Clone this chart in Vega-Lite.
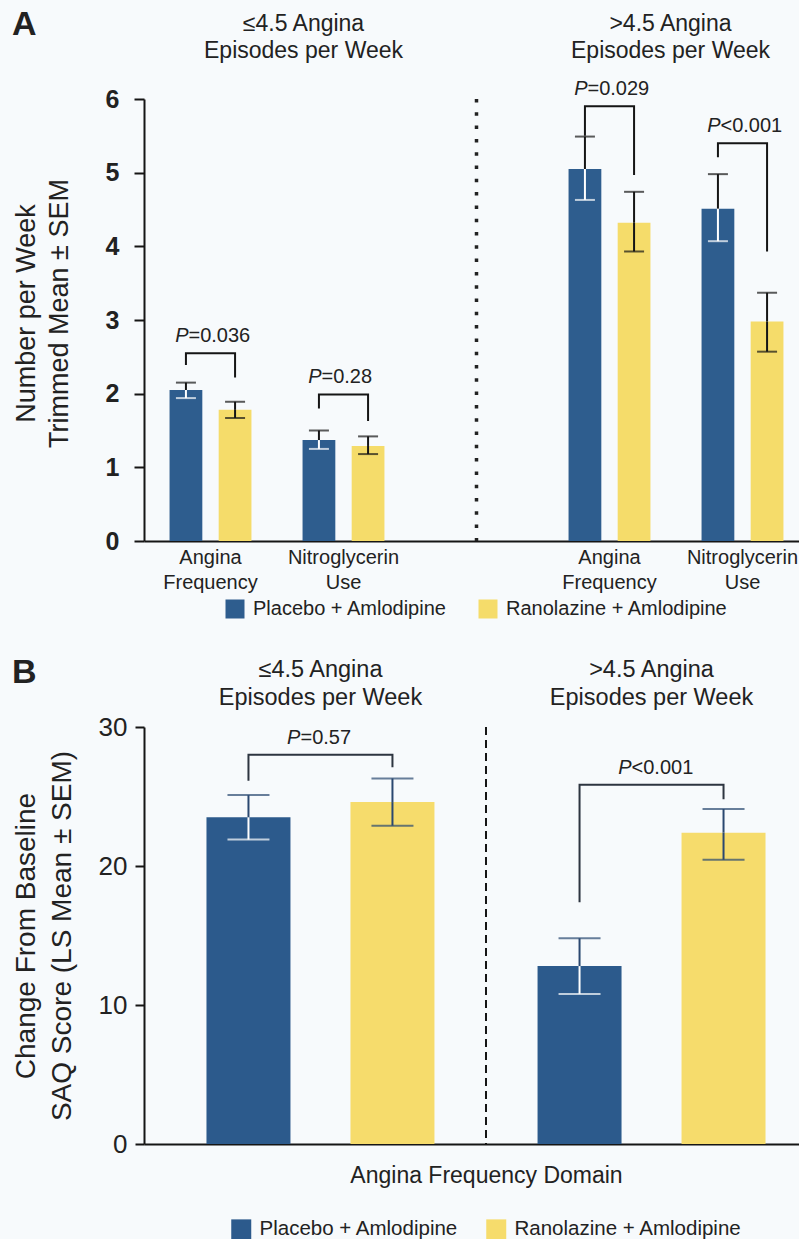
{
  "$schema": "https://vega.github.io/schema/vega-lite/v6.json",
  "background": "#f7fafc",
  "padding": {"left": 12, "top": 8, "right": -28, "bottom": 0},
  "config": {
    "font": "Liberation Sans",
    "view": {"stroke": null},
    "axis": {"grid": false, "domainColor": "#151515", "tickColor": "#151515", "labelColor": "#222222", "titleColor": "#222222", "titleFontWeight": "normal", "labelLimit": 400},
    "legend": {"labelColor": "#222222", "labelLimit": 400, "layout": {"bottom": {"anchor": "middle"}}}
  },
  "datasets": {
    "barsA": [
      {"slot": "≤4.5|Angina Frequency", "group": "Placebo + Amlodipine", "mean": 2.05, "lo": 1.94, "hi": 2.15},
      {"slot": "≤4.5|Angina Frequency", "group": "Ranolazine + Amlodipine", "mean": 1.78, "lo": 1.67, "hi": 1.89},
      {"slot": "≤4.5|Nitroglycerin Use", "group": "Placebo + Amlodipine", "mean": 1.37, "lo": 1.25, "hi": 1.5},
      {"slot": "≤4.5|Nitroglycerin Use", "group": "Ranolazine + Amlodipine", "mean": 1.29, "lo": 1.18, "hi": 1.42},
      {"slot": ">4.5|Angina Frequency", "group": "Placebo + Amlodipine", "mean": 5.05, "lo": 4.63, "hi": 5.49},
      {"slot": ">4.5|Angina Frequency", "group": "Ranolazine + Amlodipine", "mean": 4.32, "lo": 3.93, "hi": 4.74},
      {"slot": ">4.5|Nitroglycerin Use", "group": "Placebo + Amlodipine", "mean": 4.51, "lo": 4.07, "hi": 4.98},
      {"slot": ">4.5|Nitroglycerin Use", "group": "Ranolazine + Amlodipine", "mean": 2.98, "lo": 2.57, "hi": 3.37}
    ],
    "bracketsA": [
      {"id": 1, "k": 1, "slot": "≤4.5|Angina Frequency", "group": "Placebo + Amlodipine", "y": 2.39},
      {"id": 1, "k": 2, "slot": "≤4.5|Angina Frequency", "group": "Placebo + Amlodipine", "y": 2.55},
      {"id": 1, "k": 3, "slot": "≤4.5|Angina Frequency", "group": "Ranolazine + Amlodipine", "y": 2.55},
      {"id": 1, "k": 4, "slot": "≤4.5|Angina Frequency", "group": "Ranolazine + Amlodipine", "y": 2.22},
      {"id": 2, "k": 1, "slot": "≤4.5|Nitroglycerin Use", "group": "Placebo + Amlodipine", "y": 1.8},
      {"id": 2, "k": 2, "slot": "≤4.5|Nitroglycerin Use", "group": "Placebo + Amlodipine", "y": 1.99},
      {"id": 2, "k": 3, "slot": "≤4.5|Nitroglycerin Use", "group": "Ranolazine + Amlodipine", "y": 1.99},
      {"id": 2, "k": 4, "slot": "≤4.5|Nitroglycerin Use", "group": "Ranolazine + Amlodipine", "y": 1.63},
      {"id": 3, "k": 1, "slot": ">4.5|Angina Frequency", "group": "Placebo + Amlodipine", "y": 5.5},
      {"id": 3, "k": 2, "slot": ">4.5|Angina Frequency", "group": "Placebo + Amlodipine", "y": 5.9},
      {"id": 3, "k": 3, "slot": ">4.5|Angina Frequency", "group": "Ranolazine + Amlodipine", "y": 5.9},
      {"id": 3, "k": 4, "slot": ">4.5|Angina Frequency", "group": "Ranolazine + Amlodipine", "y": 4.97},
      {"id": 4, "k": 1, "slot": ">4.5|Nitroglycerin Use", "group": "Placebo + Amlodipine", "y": 5.21},
      {"id": 4, "k": 2, "slot": ">4.5|Nitroglycerin Use", "group": "Placebo + Amlodipine", "y": 5.4},
      {"id": 4, "k": 3, "slot": ">4.5|Nitroglycerin Use", "group": "Ranolazine + Amlodipine", "y": 5.4},
      {"id": 4, "k": 4, "slot": ">4.5|Nitroglycerin Use", "group": "Ranolazine + Amlodipine", "y": 3.93}
    ],
    "pA": [
      {"slot": "≤4.5|Angina Frequency", "top": 2.55, "p": "=0.036"},
      {"slot": "≤4.5|Nitroglycerin Use", "top": 1.99, "p": "=0.28"},
      {"slot": ">4.5|Angina Frequency", "top": 5.9, "p": "=0.029"},
      {"slot": ">4.5|Nitroglycerin Use", "top": 5.4, "p": "<0.001"}
    ],
    "dividerA": [{"slot": " "}],
    "barsB": [
      {"half": "≤4.5", "group": "Placebo + Amlodipine", "mean": 23.5, "lo": 21.9, "hi": 25.1},
      {"half": "≤4.5", "group": "Ranolazine + Amlodipine", "mean": 24.6, "lo": 22.9, "hi": 26.3},
      {"half": ">4.5", "group": "Placebo + Amlodipine", "mean": 12.8, "lo": 10.8, "hi": 14.8},
      {"half": ">4.5", "group": "Ranolazine + Amlodipine", "mean": 22.4, "lo": 20.45, "hi": 24.1}
    ],
    "bracketsB": [
      {"id": 1, "k": 1, "half": "≤4.5", "group": "Placebo + Amlodipine", "y": 26.14},
      {"id": 1, "k": 2, "half": "≤4.5", "group": "Placebo + Amlodipine", "y": 28.0},
      {"id": 1, "k": 3, "half": "≤4.5", "group": "Ranolazine + Amlodipine", "y": 28.0},
      {"id": 1, "k": 4, "half": "≤4.5", "group": "Ranolazine + Amlodipine", "y": 27.1},
      {"id": 2, "k": 1, "half": ">4.5", "group": "Placebo + Amlodipine", "y": 17.4},
      {"id": 2, "k": 2, "half": ">4.5", "group": "Placebo + Amlodipine", "y": 25.85},
      {"id": 2, "k": 3, "half": ">4.5", "group": "Ranolazine + Amlodipine", "y": 25.85},
      {"id": 2, "k": 4, "half": ">4.5", "group": "Ranolazine + Amlodipine", "y": 24.8}
    ],
    "pB": [
      {"half": "≤4.5", "top": 28.0, "p": "=0.57"},
      {"half": ">4.5", "top": 25.85, "p": "<0.001"}
    ],
    "dividerB": [{"half": "≤4.5"}]
  },
  "resolve": {"scale": {"color": "independent", "xOffset": "independent"}, "legend": {"color": "independent"}},
  "spacing": 37,
  "vconcat": [
    {
      "width": 665,
      "height": 442,
      "title": {"text": "A", "anchor": "start", "frame": "bounds", "fontSize": 34, "fontWeight": "bold", "color": "#222222", "offset": -30},
      "resolve": {"axis": {"x": "independent"}},
      "layer": [
        {
          "data": {"name": "barsA"},
          "mark": {"type": "bar"},
          "encoding": {
            "x": {"field": "slot", "type": "nominal",
              "scale": {"domain": ["≤4.5|Angina Frequency", "≤4.5|Nitroglycerin Use", " ", ">4.5|Angina Frequency", ">4.5|Nitroglycerin Use"], "paddingInner": 0, "paddingOuter": 0},
              "axis": {"orient": "bottom", "title": null, "ticks": false, "labelAngle": 0, "labelExpr": "split(split(datum.value, '|')[1] || '', ' ')", "labelFontSize": 20, "labelLineHeight": 25, "labelPadding": 6, "domainWidth": 2}},
            "xOffset": {"field": "group", "type": "nominal", "scale": {"paddingInner": 0.333, "paddingOuter": 0.52}},
            "y": {"field": "mean", "type": "quantitative", "scale": {"domain": [0, 6]},
              "axis": {"values": [0, 1, 2, 3, 4, 5, 6], "format": "d", "title": ["Number per Week", "Trimmed Mean ± SEM"], "titleFontSize": 27, "titleLineHeight": 33, "titlePadding": 32, "titleY": 214, "labelFontSize": 25, "labelFontWeight": "bold", "labelPadding": 15, "tickSize": 10, "tickWidth": 2, "domainWidth": 2}},
            "color": {"field": "group", "type": "nominal", "scale": {"range": ["#2e5d8e", "#f5dc6a"]},
              "legend": {"orient": "bottom", "direction": "horizontal", "title": null, "offset": 7, "symbolType": "square", "symbolSize": 361, "symbolStrokeWidth": 0, "labelFontSize": 20, "labelOffset": 8, "columnPadding": 30}}
          }
        },
        {
          "data": {"name": "barsA"},
          "mark": {"type": "rule", "strokeWidth": 2, "color": "#151515"},
          "encoding": {
            "x": {"field": "slot", "type": "nominal", "axis": null},
            "xOffset": {"field": "group", "type": "nominal"},
            "y": {"field": "mean", "type": "quantitative"},
            "y2": {"field": "hi"}
          }
        },
        {
          "data": {"name": "barsA"},
          "mark": {"type": "rule", "strokeWidth": 2},
          "encoding": {
            "x": {"field": "slot", "type": "nominal", "axis": null},
            "xOffset": {"field": "group", "type": "nominal"},
            "y": {"field": "lo", "type": "quantitative"},
            "y2": {"field": "mean"},
            "color": {"condition": {"test": "datum.group === 'Placebo + Amlodipine'", "value": "#ffffff"}, "value": "#151515"}
          }
        },
        {
          "data": {"name": "barsA"},
          "mark": {"type": "tick", "orient": "horizontal", "size": 20, "thickness": 2, "color": "#151515"},
          "encoding": {
            "x": {"field": "slot", "type": "nominal", "axis": null},
            "xOffset": {"field": "group", "type": "nominal"},
            "y": {"field": "hi", "type": "quantitative"}
          }
        },
        {
          "data": {"name": "barsA"},
          "mark": {"type": "tick", "orient": "horizontal", "size": 20, "thickness": 2},
          "encoding": {
            "x": {"field": "slot", "type": "nominal", "axis": null},
            "xOffset": {"field": "group", "type": "nominal"},
            "y": {"field": "lo", "type": "quantitative"},
            "color": {"condition": {"test": "datum.group === 'Placebo + Amlodipine'", "value": "#ffffff"}, "value": "#151515"}
          }
        },
        {
          "data": {"name": "bracketsA"},
          "mark": {"type": "line", "strokeWidth": 2, "color": "#151515"},
          "encoding": {
            "x": {"field": "slot", "type": "nominal", "axis": null},
            "xOffset": {"field": "group", "type": "nominal"},
            "y": {"field": "y", "type": "quantitative"},
            "detail": {"field": "id"},
            "order": {"field": "k"}
          }
        },
        {
          "data": {"name": "dividerA"},
          "mark": {"type": "rule", "strokeWidth": 3.5, "strokeDash": [3.5, 9.8], "color": "#222222"},
          "encoding": {
            "x": {"field": "slot", "type": "nominal", "axis": null}
          }
        },
        {
          "data": {"name": "pA"},
          "mark": {"type": "text", "text": "P", "fontStyle": "italic", "align": "right", "baseline": "middle", "dx": -22, "dy": -17, "fontSize": 20, "color": "#222222"},
          "encoding": {
            "x": {"field": "slot", "type": "nominal",
              "axis": {"orient": "top", "title": null, "domain": false, "ticks": false, "labelAngle": 0,
                "labelExpr": "(datum.value === '≤4.5|Nitroglycerin Use' || datum.value === '>4.5|Angina Frequency') ? [split(datum.value, '|')[0] + ' Angina', 'Episodes per Week'] : ''",
                "labelOffset": {"condition": {"test": "datum.value === '≤4.5|Nitroglycerin Use'", "value": -40}, "value": 61},
                "labelFontSize": 23, "labelLineHeight": 27, "labelPadding": 64}},
            "y": {"field": "top", "type": "quantitative"}
          }
        },
        {
          "data": {"name": "pA"},
          "mark": {"type": "text", "align": "left", "baseline": "middle", "dx": -22, "dy": -17, "fontSize": 20, "color": "#222222"},
          "encoding": {
            "x": {"field": "slot", "type": "nominal", "axis": null},
            "y": {"field": "top", "type": "quantitative"},
            "text": {"field": "p"}
          }
        }
      ]
    },
    {
      "width": 684,
      "height": 417,
      "title": {"text": "B", "anchor": "start", "frame": "bounds", "fontSize": 34, "fontWeight": "bold", "color": "#222222", "offset": -33},
      "resolve": {"axis": {"x": "independent"}},
      "layer": [
        {
          "data": {"name": "barsB"},
          "mark": {"type": "bar"},
          "encoding": {
            "x": {"field": "half", "type": "nominal",
              "scale": {"domain": ["≤4.5", ">4.5"], "paddingInner": 0, "paddingOuter": 0.033},
              "axis": {"orient": "bottom", "labels": false, "ticks": false, "title": "Angina Frequency Domain", "titleFontSize": 23, "titlePadding": 20, "domainWidth": 2}},
            "xOffset": {"field": "group", "type": "nominal", "scale": {"paddingInner": 0.4167, "paddingOuter": 0.358}},
            "y": {"field": "mean", "type": "quantitative", "scale": {"domain": [0, 30]},
              "axis": {"values": [0, 10, 20, 30], "title": ["Change From Baseline", "SAQ Score (LS Mean ± SEM)"], "titleFontSize": 28, "titleLineHeight": 36, "titlePadding": 22, "labelFontSize": 26, "labelPadding": 8, "tickSize": 9, "tickWidth": 2, "domainWidth": 2}},
            "color": {"field": "group", "type": "nominal", "scale": {"range": ["#2c5a8c", "#f6dc6c"]},
              "legend": {"orient": "bottom", "direction": "horizontal", "title": null, "offset": 32, "symbolType": "square", "symbolSize": 400, "symbolStrokeWidth": 0, "labelFontSize": 20.5, "labelOffset": 8, "columnPadding": 27}}
          }
        },
        {
          "data": {"name": "barsB"},
          "mark": {"type": "rule", "strokeWidth": 2, "color": "#2a4870"},
          "encoding": {
            "x": {"field": "half", "type": "nominal", "axis": null},
            "xOffset": {"field": "group", "type": "nominal"},
            "y": {"field": "mean", "type": "quantitative"},
            "y2": {"field": "hi"}
          }
        },
        {
          "data": {"name": "barsB"},
          "mark": {"type": "rule", "strokeWidth": 2},
          "encoding": {
            "x": {"field": "half", "type": "nominal", "axis": null},
            "xOffset": {"field": "group", "type": "nominal"},
            "y": {"field": "lo", "type": "quantitative"},
            "y2": {"field": "mean"},
            "color": {"condition": {"test": "datum.group === 'Placebo + Amlodipine'", "value": "#ffffff"}, "value": "#2a4870"}
          }
        },
        {
          "data": {"name": "barsB"},
          "mark": {"type": "tick", "orient": "horizontal", "size": 42, "thickness": 2, "color": "#2a4870"},
          "encoding": {
            "x": {"field": "half", "type": "nominal", "axis": null},
            "xOffset": {"field": "group", "type": "nominal"},
            "y": {"field": "hi", "type": "quantitative"}
          }
        },
        {
          "data": {"name": "barsB"},
          "mark": {"type": "tick", "orient": "horizontal", "size": 42, "thickness": 2},
          "encoding": {
            "x": {"field": "half", "type": "nominal", "axis": null},
            "xOffset": {"field": "group", "type": "nominal"},
            "y": {"field": "lo", "type": "quantitative"},
            "color": {"condition": {"test": "datum.group === 'Placebo + Amlodipine'", "value": "#ffffff"}, "value": "#2a4870"}
          }
        },
        {
          "data": {"name": "bracketsB"},
          "mark": {"type": "line", "strokeWidth": 2, "color": "#2d3540"},
          "encoding": {
            "x": {"field": "half", "type": "nominal", "axis": null},
            "xOffset": {"field": "group", "type": "nominal"},
            "y": {"field": "y", "type": "quantitative"},
            "detail": {"field": "id"},
            "order": {"field": "k"}
          }
        },
        {
          "data": {"name": "dividerB"},
          "mark": {"type": "rule", "strokeWidth": 2, "strokeDash": [8, 5], "color": "#151515"},
          "encoding": {
            "x": {"field": "half", "type": "nominal", "bandPosition": 1, "axis": null}
          }
        },
        {
          "data": {"name": "pB"},
          "mark": {"type": "text", "text": "P", "fontStyle": "italic", "align": "right", "baseline": "middle", "dx": -20, "dy": -17, "fontSize": 20, "color": "#222222"},
          "encoding": {
            "x": {"field": "half", "type": "nominal",
              "axis": {"orient": "top", "title": null, "domain": false, "ticks": false, "labelAngle": 0,
                "labelExpr": "[datum.value + ' Angina', 'Episodes per Week']",
                "labelFontSize": 23.5, "labelLineHeight": 28, "labelPadding": 46}},
            "y": {"field": "top", "type": "quantitative"}
          }
        },
        {
          "data": {"name": "pB"},
          "mark": {"type": "text", "align": "left", "baseline": "middle", "dx": -20, "dy": -17, "fontSize": 20, "color": "#222222"},
          "encoding": {
            "x": {"field": "half", "type": "nominal", "axis": null},
            "y": {"field": "top", "type": "quantitative"},
            "text": {"field": "p"}
          }
        }
      ]
    }
  ]
}
